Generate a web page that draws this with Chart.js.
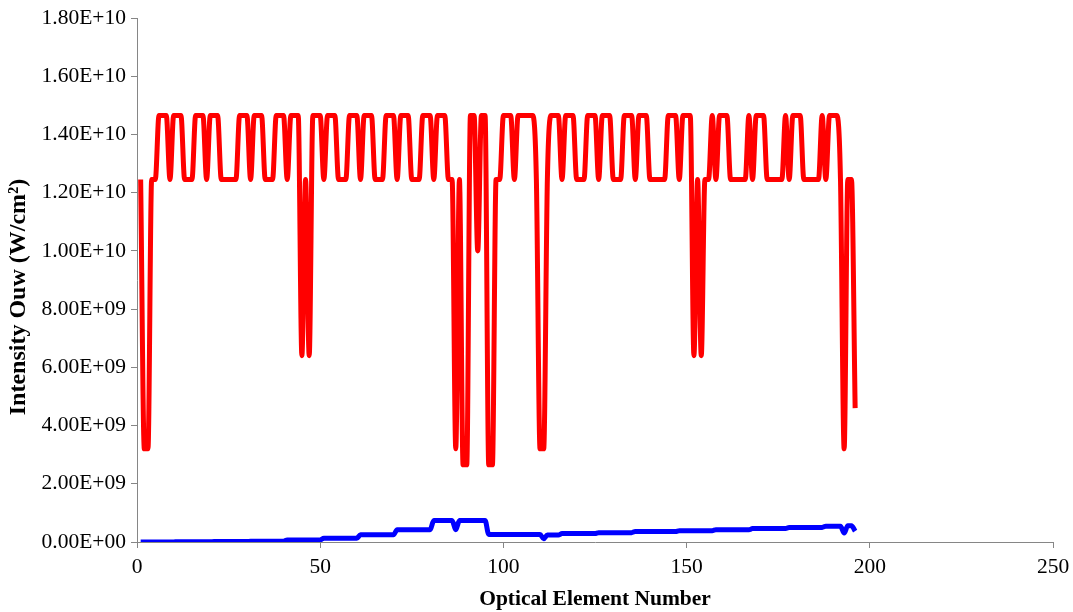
<!DOCTYPE html>
<html>
<head>
<meta charset="utf-8">
<script src="https://cdn.jsdelivr.net/npm/chart.js@4/dist/chart.umd.min.js"></script>
<style>
  body { margin: 0; background: #fff; }
  #chart { display: block; }
</style>
</head>
<body>
<canvas id="chart" width="1073" height="612"></canvas>
<script>
// intensity per optical element (element number = index + 1)
let redIntensity = [
  1.245e10, 3.2e9, 3.2e9, 1.245e10, 1.245e10, 1.465e10, 1.465e10, 1.465e10, 1.245e10, 1.465e10,
  1.465e10, 1.465e10, 1.245e10, 1.245e10, 1.245e10, 1.465e10, 1.465e10, 1.465e10, 1.245e10, 1.465e10,
  1.465e10, 1.465e10, 1.245e10, 1.245e10, 1.245e10, 1.245e10, 1.245e10, 1.465e10, 1.465e10, 1.465e10,
  1.245e10, 1.465e10, 1.465e10, 1.465e10, 1.245e10, 1.245e10, 1.245e10, 1.465e10, 1.465e10, 1.465e10,
  1.245e10, 1.465e10, 1.465e10, 1.465e10, 6.4e9, 1.245e10, 6.4e9, 1.465e10, 1.465e10, 1.465e10,
  1.245e10, 1.465e10, 1.465e10, 1.465e10, 1.245e10, 1.245e10, 1.245e10, 1.465e10, 1.465e10, 1.465e10,
  1.245e10, 1.465e10, 1.465e10, 1.465e10, 1.245e10, 1.245e10, 1.245e10, 1.465e10, 1.465e10, 1.465e10,
  1.245e10, 1.465e10, 1.465e10, 1.465e10, 1.245e10, 1.245e10, 1.245e10, 1.465e10, 1.465e10, 1.465e10,
  1.245e10, 1.465e10, 1.465e10, 1.465e10, 1.245e10, 1.245e10, 3.2e9, 1.245e10, 2.65e9, 2.65e9,
  1.465e10, 1.465e10, 1.0e10, 1.465e10, 1.465e10, 2.65e9, 2.65e9, 1.245e10, 1.245e10, 1.465e10,
  1.465e10, 1.465e10, 1.245e10, 1.465e10, 1.465e10, 1.465e10, 1.465e10, 1.465e10, 1.245e10, 3.2e9,
  3.2e9, 1.245e10, 1.465e10, 1.465e10, 1.465e10, 1.245e10, 1.465e10, 1.465e10, 1.465e10, 1.245e10,
  1.245e10, 1.245e10, 1.465e10, 1.465e10, 1.465e10, 1.245e10, 1.465e10, 1.465e10, 1.465e10, 1.245e10,
  1.245e10, 1.245e10, 1.465e10, 1.465e10, 1.465e10, 1.245e10, 1.465e10, 1.465e10, 1.465e10, 1.245e10,
  1.245e10, 1.245e10, 1.245e10, 1.245e10, 1.465e10, 1.465e10, 1.465e10, 1.245e10, 1.465e10, 1.465e10,
  1.465e10, 6.4e9, 1.245e10, 6.4e9, 1.245e10, 1.245e10, 1.465e10, 1.245e10, 1.465e10, 1.465e10,
  1.465e10, 1.245e10, 1.245e10, 1.245e10, 1.245e10, 1.245e10, 1.465e10, 1.245e10, 1.465e10, 1.465e10,
  1.465e10, 1.245e10, 1.245e10, 1.245e10, 1.245e10, 1.245e10, 1.465e10, 1.245e10, 1.465e10, 1.465e10,
  1.465e10, 1.245e10, 1.245e10, 1.245e10, 1.245e10, 1.245e10, 1.465e10, 1.245e10, 1.465e10, 1.465e10,
  1.465e10, 1.245e10, 3.2e9, 1.245e10, 1.245e10, 4.6e9
];

let blueIntensity = [
  3e6, 3e6, 3e6, 3e6, 3e6, 3e6, 3e6, 3e6, 3e6, 3e6,
  8e6, 8e6, 8e6, 8e6, 8e6, 8e6, 8e6, 8e6, 8e6, 8e6,
  1.5e7, 1.5e7, 1.5e7, 1.5e7, 1.5e7, 1.5e7, 1.5e7, 1.5e7, 1.5e7, 1.5e7,
  3e7, 3e7, 3e7, 3e7, 3e7, 3e7, 3e7, 3e7, 3e7, 3e7,
  7e7, 7e7, 7e7, 7e7, 7e7, 7e7, 7e7, 7e7, 7e7, 7e7,
  1.3e8, 1.3e8, 1.3e8, 1.3e8, 1.3e8, 1.3e8, 1.3e8, 1.3e8, 1.3e8, 1.3e8,
  2.5e8, 2.5e8, 2.5e8, 2.5e8, 2.5e8, 2.5e8, 2.5e8, 2.5e8, 2.5e8, 2.5e8,
  4.2e8, 4.2e8, 4.2e8, 4.2e8, 4.2e8, 4.2e8, 4.2e8, 4.2e8, 4.2e8, 4.2e8,
  7.4e8, 7.4e8, 7.4e8, 7.4e8, 7.4e8, 7.4e8, 4.2e8, 7.4e8, 7.4e8, 7.4e8,
  7.4e8, 7.4e8, 7.4e8, 7.4e8, 7.4e8, 2.6e8, 2.6e8, 2.6e8, 2.6e8, 2.6e8,
  2.6e8, 2.6e8, 2.6e8, 2.6e8, 2.6e8, 2.6e8, 2.6e8, 2.6e8, 2.6e8, 2.6e8,
  1.1e8, 2.4e8, 2.4e8, 2.4e8, 2.4e8, 2.9e8, 2.9e8, 2.9e8, 2.9e8, 2.9e8,
  2.9e8, 2.9e8, 2.9e8, 2.9e8, 2.9e8, 3.2e8, 3.2e8, 3.2e8, 3.2e8, 3.2e8,
  3.2e8, 3.2e8, 3.2e8, 3.2e8, 3.2e8, 3.6e8, 3.6e8, 3.6e8, 3.6e8, 3.6e8,
  3.6e8, 3.6e8, 3.6e8, 3.6e8, 3.6e8, 3.6e8, 3.6e8, 3.9e8, 3.9e8, 3.9e8,
  3.9e8, 3.9e8, 3.9e8, 3.9e8, 3.9e8, 3.9e8, 3.9e8, 4.2e8, 4.2e8, 4.2e8,
  4.2e8, 4.2e8, 4.2e8, 4.2e8, 4.2e8, 4.2e8, 4.2e8, 4.6e8, 4.6e8, 4.6e8,
  4.6e8, 4.6e8, 4.6e8, 4.6e8, 4.6e8, 4.6e8, 4.6e8, 5.0e8, 5.0e8, 5.0e8,
  5.0e8, 5.0e8, 5.0e8, 5.0e8, 5.0e8, 5.0e8, 5.0e8, 5.4e8, 5.4e8, 5.4e8,
  5.4e8, 5.4e8, 3.1e8, 5.6e8, 5.6e8, 3.7e8
];

let xTitle = "Optical Element Number";
let yTitle = "Intensity Ouw (W/cm\u00B2)";

function toPoints(values) {
  return values.map((v, i) => ({ x: i + 1, y: v }));
}

// 1.80E+10 style labels
function sciLabel(v) {
  let parts = Number(v).toExponential(2).split("e");
  let exp = parts[1];
  return parts[0] + "E" + exp[0] + exp.slice(1).padStart(2, "0");
}

let axisGrey = "#868686";
let tickFont = { family: "Liberation Serif", size: 21.5 };
let titleFont = { family: "Liberation Serif", size: 21.5, weight: "bold" };

// y title sits a little below the middle of the axis in the original, so draw it here
let yTitlePlugin = {
  id: "yTitle",
  afterDraw(c) {
    let ctx = c.ctx;
    ctx.save();
    ctx.translate(19, 297);
    ctx.rotate(-Math.PI / 2);
    ctx.font = "bold 24px 'Liberation Serif'";
    ctx.fillStyle = "#000";
    ctx.textAlign = "center";
    ctx.textBaseline = "middle";
    ctx.fillText(yTitle, 0, 0);
    ctx.restore();
  }
};

let chart = new Chart(document.getElementById("chart"), {
  type: "line",
  data: {
    datasets: [
      {
        data: toPoints(blueIntensity),
        borderColor: "#0000FF",
        borderWidth: 5,
        pointRadius: 0,
        fill: false,
        cubicInterpolationMode: "monotone"
      },
      {
        data: toPoints(redIntensity),
        borderColor: "#FF0000",
        borderWidth: 5,
        pointRadius: 0,
        fill: false,
        cubicInterpolationMode: "monotone"
      }
    ]
  },
  options: {
    responsive: false,
    animation: false,
    layout: { padding: { top: 18, right: 20, left: 0, bottom: 0 } },
    plugins: {
      legend: { display: false },
      tooltip: { enabled: false }
    },
    scales: {
      x: {
        type: "linear",
        min: 0,
        max: 250,
        ticks: { stepSize: 50, color: "#000", font: tickFont, padding: 6 },
        grid: { drawOnChartArea: false, tickLength: 6, color: axisGrey },
        border: { color: axisGrey, width: 1 },
        title: { display: true, text: xTitle, color: "#000", font: titleFont, padding: { top: 2, bottom: 0 } },
        afterFit: function (scale) {
          scale.height = 70;
          scale.paddingRight = 0;
        }
      },
      y: {
        min: 0,
        max: 1.8e10,
        ticks: { stepSize: 2e9, color: "#000", font: tickFont, padding: 5, callback: sciLabel },
        grid: { drawOnChartArea: false, tickLength: 6, color: axisGrey },
        border: { color: axisGrey, width: 1 },
        afterFit: function (scale) { scale.width = 137; }
      }
    }
  },
  plugins: [yTitlePlugin]
});
</script>
</body>
</html>
